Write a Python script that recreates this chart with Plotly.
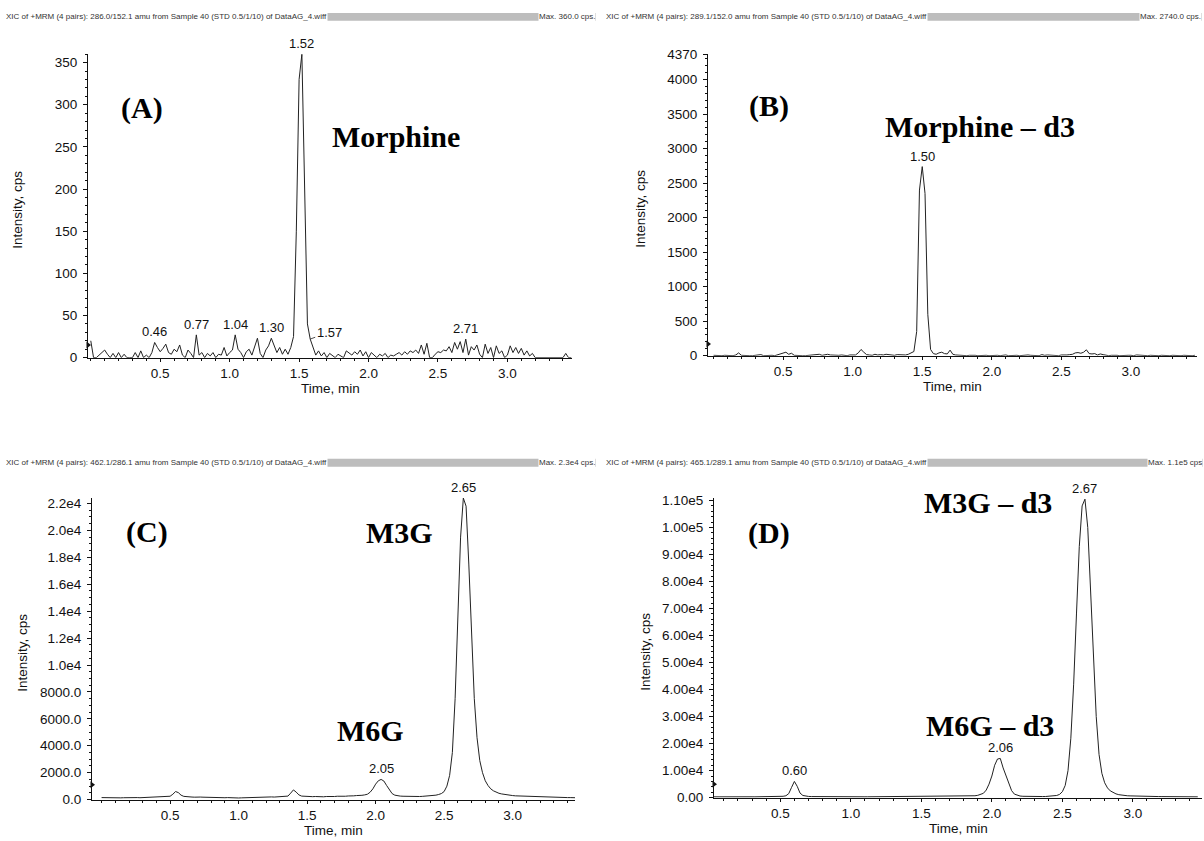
import plotly.graph_objects as go

W, H = 1204, 841
STEP = 0.02  # sampling interval, min

# ---------------- data (intensity, cps; sampled every STEP min from 0.00) -------------
INT_A = [20, 0, 0, 3, 5, 9, 4, 0, 5, 0,
         6, 0, 4, 0, 0, 0, 6, 0, 8, 0,
         3, 0, 6, 18, 12, 7, 11, 16, 6, 4,
         10, 7, 15, 3, 0, 9, 5, 0, 27, 3,
         6, 0, 5, 2, 6, 0, 4, 3, 12, 2,
         6, 9, 27, 10, 6, 0, 7, 10, 3, 12,
         23, 5, 0, 9, 14, 23, 15, 6, 12, 4,
         10, 4, 12, 25, 150, 330, 360, 200, 40, 22,
         12, 3, 8, 2, 6, 0, 5, 3, 0, 4,
         2, 0, 8, 5, 3, 7, 4, 9, 2, 7,
         0, 6, 3, 0, 4, 2, 5, 0, 3, 2,
         4, 6, 3, 7, 4, 8, 6, 9, 5, 15,
         4, 17, 0, 0, 4, 7, 6, 9, 8, 13,
         6, 18, 10, 19, 6, 22, 3, 13, 9, 15,
         4, 0, 16, 5, 12, 0, 14, 5, 8, 0,
         3, 14, 6, 12, 5, 11, 3, 8, 2, 5,
         0, 0, 0, 0, 0, 0, 0, 0, 0, 0,
         0, 5, 0, 0]

INT_B = [5, 0, 5, 0, 5, 0, 5, 0, 10, 40,
         5, 0, 5, 0, 0, 5, 0, 15, 0, 5,
         0, 5, 0, 10, 25, 40, 50, 20, 35, 5,
         0, 5, 0, 0, 5, 0, 5, 15, 20, 5,
         15, 20, 10, 5, 0, 5, 10, 5, 0, 10,
         5, 10, 40, 90, 50, 15, 10, 5, 20, 10,
         15, 10, 20, 15, 10, 5, 15, 10, 5, 10,
         20, 40, 60, 350, 2400, 2740, 2350, 600, 90, 30,
         20, 40, 50, 30, 25, 80, 20, 10, 5, 10,
         5, 0, 5, 10, 5, 0, 5, 0, 5, 0,
         5, 0, 5, 0, 5, 10, 0, 5, 0, 5,
         0, 5, 0, 10, 5, 0, 5, 0, 15, 5,
         10, 5, 0, 5, 0, 10, 5, 10, 15, 20,
         40, 45, 35, 50, 85, 30, 25, 30, 10, 25,
         15, 5, 0, 5, 10, 5, 0, 5, 10, 5,
         5, 0, 10, 5, 0, 5, 0, 5, 0, 5,
         0, 5, 0, 5, 0, 5, 0, 5, 0, 5,
         0, 5, 0, 5]

INT_C = [150, 140, 150, 130, 140, 150, 140, 130, 140, 150,
         140, 150, 160, 150, 140, 150, 160, 170, 160, 170,
         180, 170, 190, 200, 210, 250, 400, 600, 520, 330,
         240, 210, 200, 190, 180, 200, 190, 180, 170, 180,
         170, 160, 170, 150, 160, 140, 150, 130, 140, 130,
         120, 130, 140, 150, 140, 160, 170, 160, 180, 170,
         190, 180, 200, 190, 210, 200, 220, 230, 260, 480,
         720, 560, 350, 260, 240, 230, 240, 220, 230, 210,
         220, 210, 230, 220, 240, 230, 250, 240, 260, 250,
         270, 260, 280, 300, 290, 320, 350, 400, 550, 800,
         1150, 1400, 1500, 1380, 1050, 700, 450, 330, 280, 260,
         250, 240, 230, 240, 230, 220, 230, 240, 250, 260,
         280, 300, 330, 380, 450, 600, 1000, 1800, 3500, 7500,
         13500, 19500, 22400, 21800, 17500, 12000, 7500, 4600, 2900, 2000,
         1400, 1050, 800, 650, 550, 470, 420, 380, 350, 320,
         300, 280, 270, 260, 250, 240, 230, 220, 210, 200,
         200, 190, 190, 180, 180, 170, 170, 160, 160, 150,
         150, 150, 140, 140]

INT_D = [300, 320, 300, 310, 290, 300, 310, 300, 290, 300,
         300, 310, 300, 290, 300, 310, 300, 300, 310, 300,
         310, 320, 330, 350, 380, 420, 500, 700, 1500, 3800,
         6000, 4200, 1700, 800, 550, 450, 400, 380, 360, 350,
         340, 330, 320, 330, 320, 310, 320, 310, 300, 310,
         300, 310, 300, 310, 320, 310, 320, 330, 320, 330,
         330, 340, 330, 340, 350, 340, 350, 360, 350, 360,
         370, 360, 370, 380, 370, 380, 390, 380, 390, 400,
         400, 410, 420, 410, 420, 430, 440, 450, 460, 480,
         500, 520, 550, 600, 700, 850, 1100, 1600, 2800, 5000,
         8000, 12000, 14300, 14500, 11000, 8000, 5500, 2600, 1300, 800,
         600, 500, 450, 420, 400, 400, 390, 400, 410, 420,
         450, 500, 600, 800, 1200, 2200, 4500, 10000, 22000, 42000,
         68000, 93000, 108000, 110500, 100000, 78000, 52000, 30000, 16000, 9000,
         5500, 3600, 2500, 1800, 1400, 1100, 900, 800, 700, 650,
         600, 560, 520, 500, 480, 460, 440, 420, 410, 400,
         390, 380, 370, 360, 350, 340, 330, 320, 320, 310,
         300, 300, 300, 300]

X_TICKS = [0.5, 1.0, 1.5, 2.0, 2.5, 3.0]
X_TICK_TEXT = ["0.5", "1.0", "1.5", "2.0", "2.5", "3.0"]

Y_TICKS_A = [0, 50, 100, 150, 200, 250, 300, 350]
Y_TEXT_A = ["0", "50", "100", "150", "200", "250", "300", "350"]
Y_TICKS_B = [0, 500, 1000, 1500, 2000, 2500, 3000, 3500, 4000, 4370]
Y_TEXT_B = ["0", "500", "1000", "1500", "2000", "2500", "3000", "3500", "4000", "4370"]
Y_TICKS_C = [0, 2000, 4000, 6000, 8000, 10000, 12000, 14000, 16000, 18000, 20000, 22000]
Y_TEXT_C = ["0.0", "2000.0", "4000.0", "6000.0", "8000.0", "1.0e4", "1.2e4",
            "1.4e4", "1.6e4", "1.8e4", "2.0e4", "2.2e4"]
Y_TICKS_D = [0, 10000, 20000, 30000, 40000, 50000, 60000, 70000, 80000, 90000, 100000, 110000]
Y_TEXT_D = ["0.00", "1.00e4", "2.00e4", "3.00e4", "4.00e4", "5.00e4", "6.00e4",
            "7.00e4", "8.00e4", "9.00e4", "1.00e5", "1.10e5"]

# peak labels: (text, time, intensity)
PEAKS_A = [("0.46", 0.46, 18), ("0.77", 0.76, 27), ("1.04", 1.04, 27),
           ("1.30", 1.30, 23), ("1.52", 1.52, 360), ("2.71", 2.70, 22)]
PEAK_A_LEADER = ("1.57", 1.58, 22)
PEAKS_B = [("1.50", 1.50, 2740)]
PEAKS_C = [("2.05", 2.04, 1500), ("2.65", 2.64, 22400)]
PEAKS_D = [("0.60", 0.60, 6000), ("2.06", 2.06, 14500), ("2.67", 2.66, 110500)]

HEADERS = [
    ("XIC of +MRM (4 pairs): 286.0/152.1 amu from Sample 40 (STD 0.5/1/10) of DataAG_4.wiff", "Max. 360.0 cps."),
    ("XIC of +MRM (4 pairs): 289.1/152.0 amu from Sample 40 (STD 0.5/1/10) of DataAG_4.wiff", "Max. 2740.0 cps."),
    ("XIC of +MRM (4 pairs): 462.1/286.1 amu from Sample 40 (STD 0.5/1/10) of DataAG_4.wiff", "Max. 2.3e4 cps."),
    ("XIC of +MRM (4 pairs): 465.1/289.1 amu from Sample 40 (STD 0.5/1/10) of DataAG_4.wiff", "Max. 1.1e5 cps"),
]

BASELINE_MARK = [15, 170, 1100, 5000]   # level of the small baseline arrow on each y axis

# ---------------- layout (pixels) ----------------
PANELS = [
    dict(dom_x=(88, 572), dom_y=(48, 357), xr=(-0.02, 3.465), yr=(0, 360),
         yt=Y_TICKS_A, ytt=Y_TEXT_A, ymin=10, data=INT_A, peaks=PEAKS_A),
    dict(dom_x=(708, 1197), dom_y=(48, 355), xr=(-0.04, 3.475), yr=(0, 4370),
         yt=Y_TICKS_B, ytt=Y_TEXT_B, ymin=100, data=INT_B, peaks=PEAKS_B),
    dict(dom_x=(92, 575), dom_y=(500, 807), xr=(-0.07, 3.455), yr=(0, 22400),
         yt=Y_TICKS_C, ytt=Y_TEXT_C, ymin=500, data=INT_C, peaks=PEAKS_C),
    dict(dom_x=(714, 1202), dom_y=(500, 805), xr=(0.03, 3.49), yr=(0, 110900),
         yt=Y_TICKS_D, ytt=Y_TEXT_D, ymin=2000, data=INT_D, peaks=PEAKS_D),
]
YTITLE_X = [18, 641, 23, 646]

SANS = "Liberation Sans, Arial, sans-serif"
SERIF = "Liberation Serif, Times New Roman, serif"
INK = "#111111"


def px(x):
    return x / W


def py(y):
    return 1 - y / H


def paper_text(x, y, text, size, family=SANS, color=INK, **kw):
    d = dict(x=px(x), y=py(y), xref="paper", yref="paper", text=text, showarrow=False,
             xanchor="center", yanchor="middle",
             font=dict(family=family, size=size, color=color))
    d.update(kw)
    return d


fig = go.Figure()
annotations = []
shapes = []

for i, p in enumerate(PANELS):
    n = "" if i == 0 else str(i + 1)
    xa, ya = "x" + n, "y" + n
    t = [round(k * STEP, 2) for k in range(len(p["data"]))]
    fig.add_trace(go.Scatter(x=t, y=p["data"], mode="lines", xaxis=xa, yaxis=ya,
                             line=dict(color="#222222", width=1), showlegend=False,
                             hoverinfo="skip"))
    # baseline arrow marker on the y axis
    fig.add_trace(go.Scatter(x=[p["xr"][0]], y=[BASELINE_MARK[i]], mode="markers",
                             xaxis=xa, yaxis=ya, cliponaxis=False, showlegend=False,
                             marker=dict(symbol="triangle-right", size=6, color="#111111"),
                             hoverinfo="skip"))
    common = dict(showline=True, linecolor="#111111", linewidth=1, ticks="outside",
                  tickcolor="#111111", showgrid=False, zeroline=False,
                  tickfont=dict(family=SANS, size=13.5, color=INK), fixedrange=True)
    fig.layout["xaxis" + n] = dict(
        common, domain=[px(p["dom_x"][0]), px(p["dom_x"][1])], range=list(p["xr"]),
        anchor=ya, tickmode="array", tickvals=X_TICKS, ticktext=X_TICK_TEXT,
        ticklen=3, ticklabelstandoff=0,
        minor=dict(ticks="outside", ticklen=2, dtick=0.1, tickcolor="#111111"))
    fig.layout["yaxis" + n] = dict(
        common, domain=[py(p["dom_y"][1]), py(p["dom_y"][0])], range=list(p["yr"]),
        anchor=xa, tickmode="array", tickvals=p["yt"], ticktext=p["ytt"],
        ticklen=4, ticklabelstandoff=3,
        minor=dict(ticks="outside", ticklen=2, dtick=p["ymin"], tickcolor="#111111"))
    for txt, tx, ty in p["peaks"]:
        annotations.append(dict(x=tx, y=ty, xref=xa, yref=ya, text=txt, showarrow=False,
                                xanchor="center", yanchor="bottom", yshift=1,
                                font=dict(family=SANS, size=13, color=INK)))
    # axis titles
    annotations.append(paper_text(YTITLE_X[i], (p["dom_y"][0] + p["dom_y"][1]) / 2 + 4,
                                  "Intensity, cps", 13.5, textangle=-90))
    annotations.append(paper_text((p["dom_x"][0] + p["dom_x"][1]) / 2, p["dom_y"][1] + 31,
                                  "Time, min", 13.5))

# leader-line label in panel A
txt, tx, ty = PEAK_A_LEADER
annotations.append(dict(x=tx, y=ty, xref="x", yref="y", text=txt, showarrow=True,
                        arrowhead=0, arrowwidth=0.8, arrowcolor="#222222", ax=19, ay=-7,
                        xanchor="center", yanchor="middle",
                        font=dict(family=SANS, size=13, color=INK)))

# big panel labels
BIG = [("(A)", 142, 103), ("Morphine", 396, 132), ("(B)", 769, 101),
       ("Morphine – d3", 980, 122), ("(C)", 147, 535), ("M3G", 399, 535),
       ("M6G", 370, 737), ("(D)", 769, 536), ("M3G – d3", 988, 505),
       ("M6G – d3", 990, 732)]
for txt, x, y in BIG:
    annotations.append(paper_text(x, y, "<b>" + txt + "</b>", 30, family=SERIF,
                                  color="#000000"))

# header bars
HEAD_POS = [(5, 596, 10), (605, 1202, 10), (5, 596, 464), (605, 1203, 464)]
for (left, right, yc), (htxt, mtxt) in zip(HEAD_POS, HEADERS):
    shapes.append(dict(type="rect", xref="paper", yref="paper",
                       x0=px(left + 2), x1=px(min(right, W)), y0=py(yc + 4), y1=py(yc - 4),
                       fillcolor="#bdbdbd", line=dict(width=0), layer="below"))
    annotations.append(paper_text(left, yc, htxt, 8, color="#333333", xanchor="left",
                                  bgcolor="#ffffff", borderpad=0))
    annotations.append(paper_text(right, yc, mtxt, 8, color="#333333", xanchor="right",
                                  bgcolor="#ffffff", borderpad=0))

fig.update_layout(width=W, height=H, margin=dict(l=0, r=0, t=0, b=0),
                  paper_bgcolor="white", plot_bgcolor="white",
                  annotations=annotations, shapes=shapes, showlegend=False)

fig.write_html("out.html", config={"displayModeBar": False})
